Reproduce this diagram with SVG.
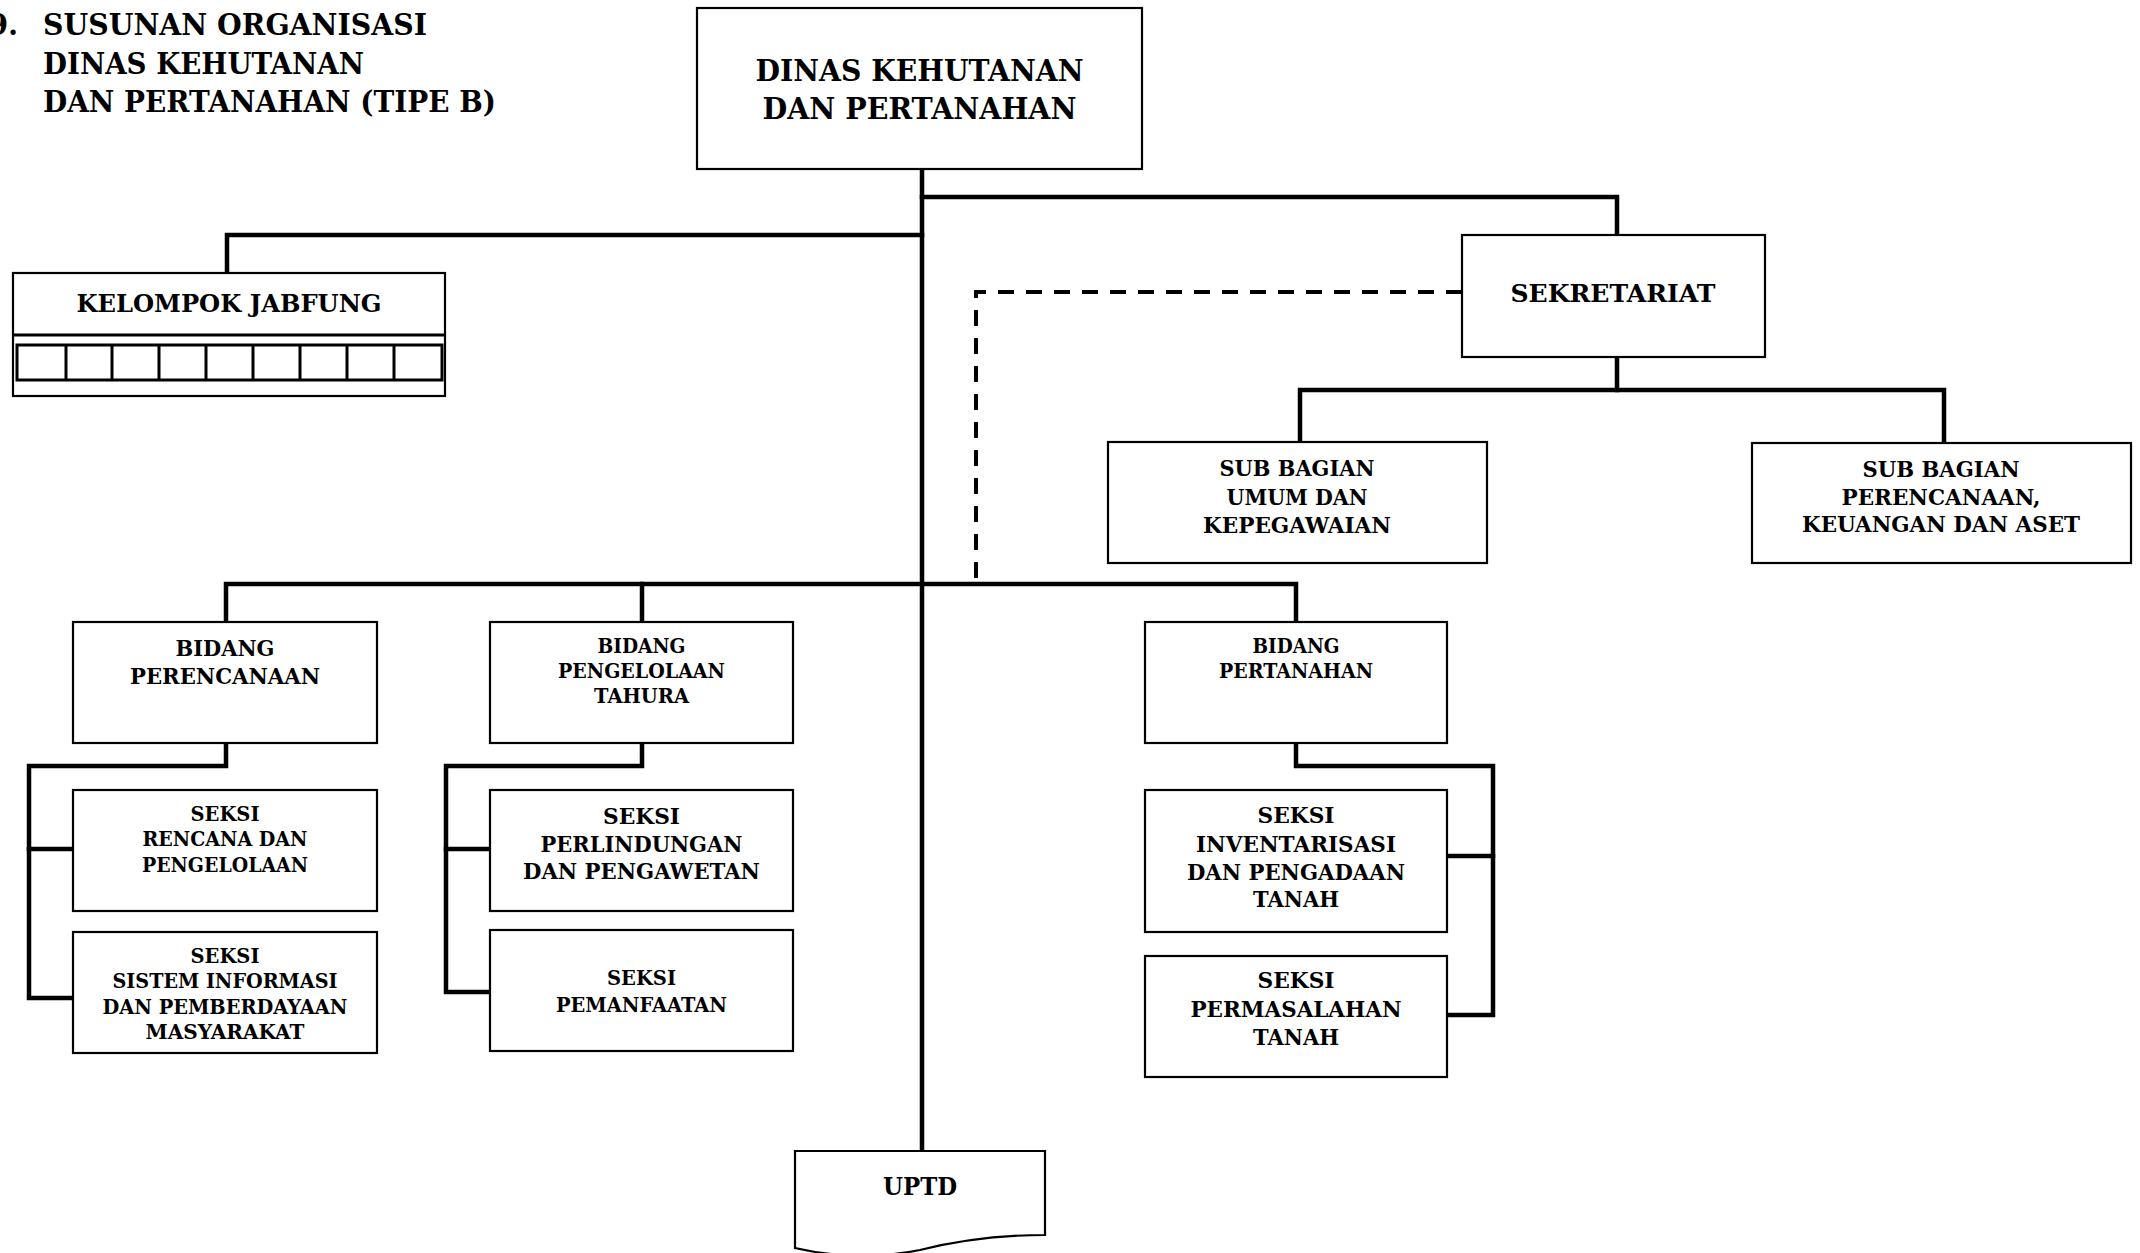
<svg xmlns="http://www.w3.org/2000/svg" width="2140" height="1253" viewBox="0 0 2140 1253">
<defs>
<style>
.bg{fill:#ffffff}
.box{fill:#ffffff;stroke:#000;stroke-width:2.2}
.cell{fill:none;stroke:#000;stroke-width:3}
.conn{fill:none;stroke:#000;stroke-width:4.5;stroke-linejoin:miter;stroke-linecap:square}
.dash{fill:none;stroke:#000;stroke-width:4;stroke-dasharray:16 12}
text{font-family:"DejaVu Serif","Liberation Serif",serif;font-weight:bold;fill:#000}
.c{text-anchor:middle}
</style>
</defs>
<rect class="bg" x="0" y="0" width="2140" height="1253"/>

<g id="title">
<text x="-12" y="35" font-size="29">9</text>
<text x="8" y="35" font-size="29">.</text>
<text x="43" y="35" font-size="29" textLength="384" lengthAdjust="spacingAndGlyphs">SUSUNAN ORGANISASI</text>
<text x="43" y="74" font-size="29" textLength="321" lengthAdjust="spacingAndGlyphs">DINAS KEHUTANAN</text>
<text x="43" y="112" font-size="29" textLength="453" lengthAdjust="spacingAndGlyphs">DAN PERTANAHAN (TIPE B)</text>
</g>

<g id="connectors">
<path class="conn" d="M922,170 V1151"/>
<path class="conn" d="M922,197 H1617 V235"/>
<path class="conn" d="M922,235 H227 V273"/>
<path class="conn" d="M1617,357 V390"/>
<path class="conn" d="M1300,442 V390 H1944 V443"/>
<path class="conn" d="M226,622 V584 H1296 V622"/>
<path class="conn" d="M642,584 V622"/>
<path class="conn" d="M226,743 V766 H29 V998 H73"/>
<path class="conn" d="M29,849 H73"/>
<path class="conn" d="M642,743 V766 H446 V992 H490"/>
<path class="conn" d="M446,849 H490"/>
<path class="conn" d="M1296,743 V766 H1493 V1015 H1447"/>
<path class="conn" d="M1447,856 H1493"/>
<path class="dash" d="M1462,292 H976 V582"/>
</g>

<g id="dinas">
<rect class="box" x="697" y="8" width="445" height="161"/>
<text class="c" x="919.5" y="81" font-size="29" textLength="328" lengthAdjust="spacingAndGlyphs">DINAS KEHUTANAN</text>
<text class="c" x="919.5" y="119" font-size="29" textLength="314" lengthAdjust="spacingAndGlyphs">DAN PERTANAHAN</text>
</g>

<g id="kelompok-jabfung">
<rect class="box" x="13" y="273" width="432" height="123"/>
<line x1="13" y1="335" x2="445" y2="335" stroke="#000" stroke-width="3"/>
<rect class="cell" x="17" y="345" width="425" height="35"/>
<path class="cell" d="M66,345V380M112,345V380M159,345V380M206,345V380M253,345V380M300,345V380M347,345V380M394,345V380"/>
<text class="c" x="229" y="312" font-size="25" textLength="305" lengthAdjust="spacingAndGlyphs">KELOMPOK JABFUNG</text>
</g>

<g id="sekretariat">
<rect class="box" x="1462" y="235" width="303" height="122"/>
<text class="c" x="1613" y="302" font-size="24" textLength="205" lengthAdjust="spacingAndGlyphs">SEKRETARIAT</text>
</g>

<g id="subbag-umum">
<rect class="box" x="1108" y="442" width="379" height="121"/>
<text class="c" x="1297" y="476" font-size="22" textLength="155" lengthAdjust="spacingAndGlyphs">SUB BAGIAN</text>
<text class="c" x="1297" y="505" font-size="22" textLength="141" lengthAdjust="spacingAndGlyphs">UMUM DAN</text>
<text class="c" x="1297" y="533" font-size="22" textLength="188" lengthAdjust="spacingAndGlyphs">KEPEGAWAIAN</text>
</g>

<g id="subbag-perencanaan">
<rect class="box" x="1752" y="443" width="379" height="120"/>
<text class="c" x="1941" y="477" font-size="22" textLength="157" lengthAdjust="spacingAndGlyphs">SUB BAGIAN</text>
<text class="c" x="1941" y="505" font-size="22" textLength="199" lengthAdjust="spacingAndGlyphs">PERENCANAAN,</text>
<text class="c" x="1941" y="532" font-size="22" textLength="278" lengthAdjust="spacingAndGlyphs">KEUANGAN DAN ASET</text>
</g>

<g id="bidang-perencanaan">
<rect class="box" x="73" y="622" width="304" height="121"/>
<text class="c" x="225" y="656" font-size="22" textLength="99" lengthAdjust="spacingAndGlyphs">BIDANG</text>
<text class="c" x="225" y="684" font-size="22" textLength="190" lengthAdjust="spacingAndGlyphs">PERENCANAAN</text>
</g>

<g id="bidang-pengelolaan">
<rect class="box" x="490" y="622" width="303" height="121"/>
<text class="c" x="641.5" y="653" font-size="20" textLength="88" lengthAdjust="spacingAndGlyphs">BIDANG</text>
<text class="c" x="641.5" y="678" font-size="20" textLength="167" lengthAdjust="spacingAndGlyphs">PENGELOLAAN</text>
<text class="c" x="641.5" y="703" font-size="20" textLength="95" lengthAdjust="spacingAndGlyphs">TAHURA</text>
</g>

<g id="bidang-pertanahan">
<rect class="box" x="1145" y="622" width="302" height="121"/>
<text class="c" x="1296" y="653" font-size="19.5" textLength="87" lengthAdjust="spacingAndGlyphs">BIDANG</text>
<text class="c" x="1296" y="678" font-size="19.5" textLength="154" lengthAdjust="spacingAndGlyphs">PERTANAHAN</text>
</g>

<g id="seksi-rencana">
<rect class="box" x="73" y="790" width="304" height="121"/>
<text class="c" x="225" y="821" font-size="20" textLength="69" lengthAdjust="spacingAndGlyphs">SEKSI</text>
<text class="c" x="225" y="846" font-size="20" textLength="165" lengthAdjust="spacingAndGlyphs">RENCANA DAN</text>
<text class="c" x="225" y="872" font-size="20" textLength="166" lengthAdjust="spacingAndGlyphs">PENGELOLAAN</text>
</g>

<g id="seksi-sistem-informasi">
<rect class="box" x="73" y="932" width="304" height="121"/>
<text class="c" x="225" y="963" font-size="20" textLength="69" lengthAdjust="spacingAndGlyphs">SEKSI</text>
<text class="c" x="225" y="988" font-size="20" textLength="225" lengthAdjust="spacingAndGlyphs">SISTEM INFORMASI</text>
<text class="c" x="225" y="1014" font-size="20" textLength="245" lengthAdjust="spacingAndGlyphs">DAN PEMBERDAYAAN</text>
<text class="c" x="225" y="1039" font-size="20" textLength="159" lengthAdjust="spacingAndGlyphs">MASYARAKAT</text>
</g>

<g id="seksi-perlindungan">
<rect class="box" x="490" y="790" width="303" height="121"/>
<text class="c" x="641.5" y="824" font-size="21.5" textLength="77" lengthAdjust="spacingAndGlyphs">SEKSI</text>
<text class="c" x="641.5" y="852" font-size="21.5" textLength="202" lengthAdjust="spacingAndGlyphs">PERLINDUNGAN</text>
<text class="c" x="641.5" y="879" font-size="21.5" textLength="237" lengthAdjust="spacingAndGlyphs">DAN PENGAWETAN</text>
</g>

<g id="seksi-pemanfaatan">
<rect class="box" x="490" y="930" width="303" height="121"/>
<text class="c" x="641.5" y="985" font-size="20" textLength="69" lengthAdjust="spacingAndGlyphs">SEKSI</text>
<text class="c" x="641.5" y="1012" font-size="20" textLength="171" lengthAdjust="spacingAndGlyphs">PEMANFAATAN</text>
</g>

<g id="seksi-inventarisasi">
<rect class="box" x="1145" y="790" width="302" height="142"/>
<text class="c" x="1296" y="823" font-size="22" textLength="77" lengthAdjust="spacingAndGlyphs">SEKSI</text>
<text class="c" x="1296" y="852" font-size="22" textLength="200" lengthAdjust="spacingAndGlyphs">INVENTARISASI</text>
<text class="c" x="1296" y="880" font-size="22" textLength="218" lengthAdjust="spacingAndGlyphs">DAN PENGADAAN</text>
<text class="c" x="1296" y="907" font-size="22" textLength="86" lengthAdjust="spacingAndGlyphs">TANAH</text>
</g>

<g id="seksi-permasalahan">
<rect class="box" x="1145" y="956" width="302" height="121"/>
<text class="c" x="1296" y="988" font-size="22" textLength="77" lengthAdjust="spacingAndGlyphs">SEKSI</text>
<text class="c" x="1296" y="1017" font-size="22" textLength="211" lengthAdjust="spacingAndGlyphs">PERMASALAHAN</text>
<text class="c" x="1296" y="1045" font-size="22" textLength="86" lengthAdjust="spacingAndGlyphs">TANAH</text>
</g>

<g id="uptd">
<path class="box" d="M795,1151 H1045 V1235 C1000,1235 960,1240 920,1250 C870,1260 830,1256 795,1248 Z"/>
<text class="c" x="920" y="1195" font-size="24" textLength="74" lengthAdjust="spacingAndGlyphs">UPTD</text>
</g>
</svg>
